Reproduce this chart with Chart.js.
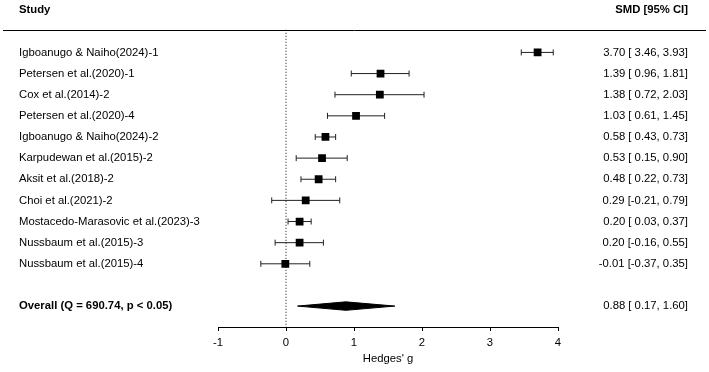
<!DOCTYPE html>
<html>
<head>
<meta charset="utf-8">
<script src="https://cdn.jsdelivr.net/npm/chart.js@4/dist/chart.umd.min.js"></script>
<style>
  html, body { margin: 0; padding: 0; background: #fff; }
  #wrap { width: 709px; height: 372px; position: relative; }
</style>
</head>
<body>
<div id="wrap"><canvas id="forest"></canvas></div>
<script>
'use strict';

// ── Data ──────────────────────────────────────────────────────────────────────
const STUDIES = [
  'Igboanugo & Naiho(2024)-1',
  'Petersen et al.(2020)-1',
  'Cox et al.(2014)-2',
  'Petersen et al.(2020)-4',
  'Igboanugo & Naiho(2024)-2',
  'Karpudewan et al.(2015)-2',
  'Aksit et al.(2018)-2',
  'Choi et al.(2021)-2',
  'Mostacedo-Marasovic et al.(2023)-3',
  'Nussbaum et al.(2015)-3',
  'Nussbaum et al.(2015)-4'
];
const EST  = [3.70, 1.39, 1.38, 1.03, 0.58, 0.53, 0.48, 0.29, 0.20, 0.20, -0.01];
const LO   = [3.46, 0.96, 0.72, 0.61, 0.43, 0.15, 0.22, -0.21, 0.03, -0.16, -0.37];
const HI   = [3.93, 1.81, 2.03, 1.45, 0.73, 0.90, 0.73, 0.79, 0.37, 0.55, 0.35];
const OVERALL       = { est: 0.88, lo: 0.17, hi: 1.60 };
const OVERALL_LABEL = 'Overall (Q = 690.74, p < 0.05)';
const X_TICKS       = [-1, 0, 1, 2, 3, 4];

// ── Layout ────────────────────────────────────────────────────────────────────
const FONT      = 'Liberation Sans, Arial, Helvetica, sans-serif';
const FSIZE     = 11.3;
const ROW_OVER  = STUDIES.length + 1;   // one blank row before the summary
const ROW_HEAD  = -2.03;
const ROW_RULE  = -1.07;
const ROW_MIN   = -2.22;
const ROW_MAX   = 12.99;
const DIAMOND_H = 0.2;

const lead = v => (v < 0 ? '' : ' ') + v.toFixed(2);
const ciText = (e, l, h) => `${e.toFixed(2)} [${lead(l)}, ${h.toFixed(2)}]`;

// ── Datasets ──────────────────────────────────────────────────────────────────
const squares = {
  label: 'est',
  data: EST.map((v, i) => ({ x: v, y: i })),
  showLine: false,
  pointStyle: 'rect',
  pointRadius: 5.5,
  pointBackgroundColor: '#000',
  pointBorderColor: '#000',
  pointBorderWidth: 0,
  order: 0
};

const whiskers = STUDIES.map((_, i) => ({
  label: 'ci' + i,
  data: [{ x: LO[i], y: i }, { x: HI[i], y: i }],
  borderColor: '#222',
  borderWidth: 1,
  pointStyle: 'line',
  pointRotation: 90,
  pointRadius: 3,
  pointBorderColor: '#222',
  pointBorderWidth: 1,
  fill: false,
  order: 2
}));

const diamondTop = {
  label: 'ovTop',
  data: [
    { x: OVERALL.lo, y: ROW_OVER },
    { x: OVERALL.est, y: ROW_OVER - DIAMOND_H },
    { x: OVERALL.hi, y: ROW_OVER }
  ],
  borderColor: '#000', borderWidth: 1, pointRadius: 0, fill: false, order: 1
};
const diamondBot = {
  label: 'ovBot',
  data: [
    { x: OVERALL.lo, y: ROW_OVER },
    { x: OVERALL.est, y: ROW_OVER + DIAMOND_H },
    { x: OVERALL.hi, y: ROW_OVER }
  ],
  borderColor: '#000', borderWidth: 1, pointRadius: 0,
  fill: '-1', backgroundColor: '#000', order: 1
};

const zeroLine = {
  label: 'zero',
  data: [{ x: 0, y: ROW_RULE }, { x: 0, y: ROW_MAX }],
  borderColor: '#111',
  borderWidth: 1,
  borderDash: [1, 2],
  pointRadius: 0,
  fill: false,
  order: 3
};

// ── Text columns ──────────────────────────────────────────────────────────────
const textColumns = {
  id: 'textColumns',
  afterDraw(chart) {
    const { ctx } = chart;
    const y = chart.scales.y;
    ctx.save();
    ctx.fillStyle = '#000';
    ctx.textBaseline = 'middle';

    // headers
    ctx.font = `bold ${FSIZE}px ${FONT}`;
    ctx.textAlign = 'left';
    ctx.fillText('Study', 19, y.getPixelForValue(ROW_HEAD));
    ctx.textAlign = 'right';
    ctx.fillText('SMD [95% CI]', 688, y.getPixelForValue(ROW_HEAD));

    // rule under headers
    const ry = Math.round(y.getPixelForValue(ROW_RULE)) + 0.5;
    ctx.strokeStyle = '#000';
    ctx.lineWidth = 1;
    ctx.beginPath();
    ctx.moveTo(3, ry);
    ctx.lineTo(706, ry);
    ctx.stroke();

    // study rows
    ctx.font = `${FSIZE}px ${FONT}`;
    STUDIES.forEach((s, i) => {
      const py = y.getPixelForValue(i);
      ctx.textAlign = 'left';
      ctx.fillText(s, 19, py);
      ctx.textAlign = 'right';
      ctx.fillText(ciText(EST[i], LO[i], HI[i]), 688, py);
    });

    // summary row
    const oy = y.getPixelForValue(ROW_OVER);
    ctx.textAlign = 'right';
    ctx.fillText(ciText(OVERALL.est, OVERALL.lo, OVERALL.hi), 688, oy);
    ctx.font = `bold ${FSIZE}px ${FONT}`;
    ctx.textAlign = 'left';
    ctx.fillText(OVERALL_LABEL, 19, oy);
    ctx.restore();
  }
};

// ── Chart ─────────────────────────────────────────────────────────────────────
new Chart(document.getElementById('forest'), {
  type: 'line',
  data: { datasets: [squares, diamondTop, diamondBot, ...whiskers, zeroLine] },
  options: {
    responsive: true,
    maintainAspectRatio: false,
    animation: false,
    layout: { padding: { left: 218, right: 151, top: 0, bottom: 0 } },
    plugins: {
      legend: { display: false },
      tooltip: { enabled: false },
      filler: { propagate: false }
    },
    scales: {
      x: {
        type: 'linear',
        min: X_TICKS[0],
        max: X_TICKS[X_TICKS.length - 1],
        afterBuildTicks: s => { s.ticks = X_TICKS.map(v => ({ value: v })); },
        afterFit: s => { s.height = 45; },
        grid: { drawOnChartArea: false, drawTicks: true, tickLength: 4, color: '#000' },
        border: { color: '#000', width: 1 },
        ticks: { color: '#000', padding: 5, font: { family: FONT, size: FSIZE } },
        title: {
          display: true,
          text: "Hedges' g",
          color: '#000',
          padding: { top: 0, bottom: 6 },
          font: { family: FONT, size: FSIZE }
        }
      },
      y: {
        type: 'linear',
        display: false,
        reverse: true,
        min: ROW_MIN,
        max: ROW_MAX
      }
    }
  },
  plugins: [textColumns]
});
</script>
</body>
</html>
